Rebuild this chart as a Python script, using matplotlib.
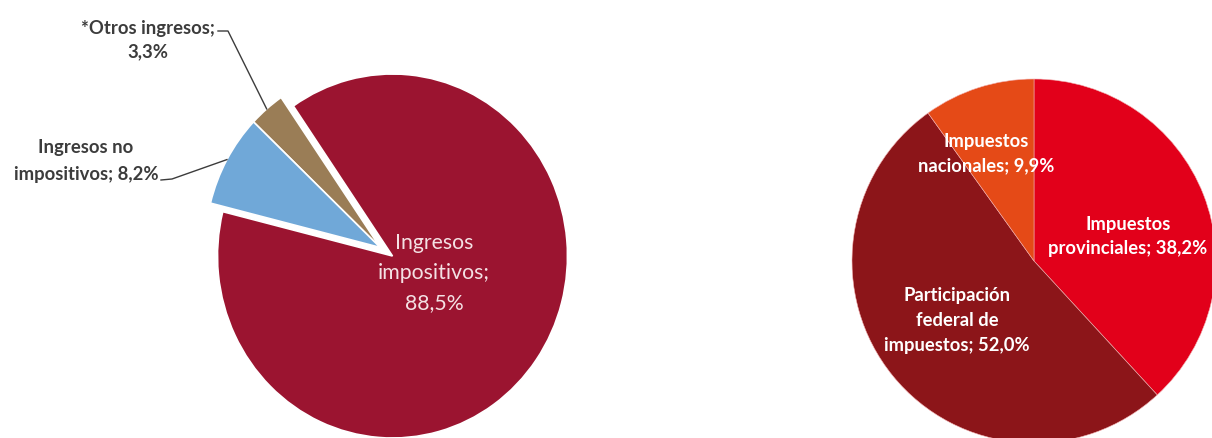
import numpy as np
import matplotlib.pyplot as plt

plt.rcParams['font.family'] = ['Lato', 'DejaVu Sans']

W, H = 1212, 439

# grafico izquierdo: composicion de los ingresos
ingresos_labels = ['*Otros ingresos;\n3,3%', 'Ingresos no\nimpositivos; 8,2%', 'Ingresos\nimpositivos;\n88,5%']
ingresos_values = [3.3, 8.2, 88.5]
ingresos_colors = ['#9a7d56', '#70a8d8', '#9b1430']

# grafico derecho: composicion de los ingresos impositivos
impuestos_labels = ['Impuestos\nprovinciales; 38,2%', 'Participación\nfederal de\nimpuestos; 52,0%',
                    'Impuestos\nnacionales; 9,9%']
impuestos_values = [38.2, 52.0, 9.9]
impuestos_colors = ['#e2001a', '#8c1519', '#e54a17']

STRETCH = 1.04  # el de la izquierda viene un poco estirado en vertical


def arc_point(w, frac=1.0):
    '''punto sobre el arco del trozo, en coordenadas de pixel (y hacia arriba)'''
    ang = np.deg2rad((w.theta1 + w.theta2) / 2)
    cx, cy = w.center
    return cx + w.r * frac * np.cos(ang), (cy + w.r * frac * np.sin(ang)) * STRETCH


fig = plt.figure(figsize=(W / 100, H / 100), dpi=100)
ax_l = fig.add_axes([0, 0, 1, 1])
ax_r = fig.add_axes([0, 0, 1, 1])

wedges_l, _ = ax_l.pie(ingresos_values, colors=ingresos_colors, startangle=124.5,
                       center=(392.5, 175), radius=175,
                       wedgeprops=dict(edgecolor='white', linewidth=1.2))
# los dos trozos chicos salen juntos hacia afuera
ang = np.deg2rad((wedges_l[0].theta1 + wedges_l[1].theta2) / 2)
shift = 15
for w in wedges_l[:2]:
    cx, cy = w.center
    w.set_center((cx + shift * np.cos(ang), cy + shift * np.sin(ang) / STRETCH))
ax_l.set_xlim(0, W)
ax_l.set_ylim(0, H / STRETCH)
ax_l.set_aspect('auto')
ax_l.set_axis_off()

wedges_r, _ = ax_r.pie(impuestos_values, colors=impuestos_colors, startangle=90, counterclock=False,
                       center=(1034, H - 262), radius=182,
                       wedgeprops=dict(edgecolor='#f2b0b0', linewidth=0.4))
ax_r.set_xlim(0, W)
ax_r.set_ylim(0, H)
ax_r.set_aspect('auto')
ax_r.set_axis_off()

# etiquetas de la izquierda
dark = '#3c3c3c'
ax_r.text(148, H - 40, ingresos_labels[0], ha='center', va='center', fontsize=13.3,
          fontweight='bold', color=dark, linespacing=1.45)
ax_r.text(86, H - 161, ingresos_labels[1], ha='center', va='center', fontsize=13.3,
          fontweight='bold', color=dark, linespacing=1.68)
ax_r.text(434, H - 273, ingresos_labels[2], ha='center', va='center', fontsize=15.3,
          color='#f4e1e4', linespacing=1.65)

# lineas guia
px, py = arc_point(wedges_l[0])
ax_r.plot([218, 228, px], [H - 32, H - 32, py], color=dark, lw=1)
px, py = arc_point(wedges_l[1])
ax_r.plot([161, 172, px], [H - 181, H - 180, py], color=dark, lw=1)

# etiquetas de la derecha
ax_r.text(1128, H - 236.5, impuestos_labels[0], ha='center', va='center', fontsize=13.2,
          fontweight='bold', color='white', linespacing=1.55)
ax_r.text(957, H - 320.5, impuestos_labels[1], ha='center', va='center', fontsize=13.2,
          fontweight='bold', color='white', linespacing=1.55)
ax_r.text(986, H - 154, impuestos_labels[2], ha='center', va='center', fontsize=13.2,
          fontweight='bold', color='white', linespacing=1.5)

fig.savefig('out.png', dpi=100)
